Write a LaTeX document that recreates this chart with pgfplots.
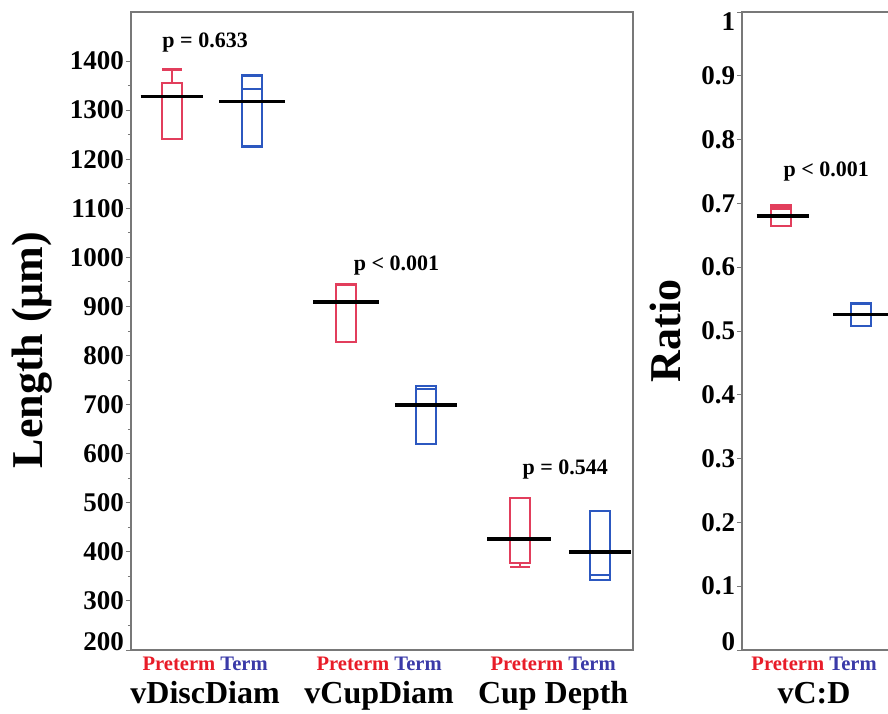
\documentclass[border=0pt]{standalone}
\usepackage{pgfplots}
\pgfplotsset{compat=1.18}
\usepgfplotslibrary{statistics}
\usepackage{fontspec}
\setmainfont{Liberation Serif}

\definecolor{preBox}{RGB}{226,62,92}
\definecolor{termBox}{RGB}{44,88,192}
\definecolor{preTxt}{RGB}{232,28,40}
\definecolor{termTxt}{RGB}{58,58,168}
\definecolor{frame}{RGB}{120,120,120}

\newcommand{\grp}[1]{{\fontsize{10.3}{12}\selectfont\textcolor{preTxt}{Preterm} \textcolor{termTxt}{Term}}\\#1}
\newcommand{\up}[2]{\raisebox{#1}[\height][\depth]{#2}}

\tikzset{pval/.style={font=\fontsize{11}{13}\selectfont\bfseries}}

\pgfplotsset{
  panel/.style={
    scale only axis, height=319pt,
    axis line style={frame, line width=0.6pt},
    tick align=outside, ytick pos=left, xtick pos=bottom,
    major tick length=2.5pt, minor tick length=1.5pt,
    tick style={frame, line width=0.5pt},
    major x tick style={draw=none},
    yticklabel style={font=\fontsize{13.5}{16}\selectfont\bfseries, inner xsep=0.8pt},
    xticklabel style={align=center, anchor=north, yshift=2.5pt,
      font=\fontsize{16}{16.5}\selectfont\bfseries},
    ylabel style={font=\fontsize{22}{26}\selectfont\bfseries, anchor=center},
    boxplot/draw direction=y,
    boxplot/box extend=0.115,
    boxplot/whisker extend=0.115,
    clip=false,
  },
  pre/.style={preBox, line width=1.2pt, solid},
  trm/.style={termBox, line width=1.2pt, solid},
  mean/.style={black, line width=1.7pt},
}

\begin{document}
\begin{tikzpicture}
\begin{axis}[panel,
    width=251pt,
    xmin=0.764, xmax=3.649,
    ymin=200, ymax=1500,
    ytick={200,300,400,500,600,700,800,900,1000,1100,1200,1300,1400},
    yticklabels={\up{4pt}{200},300,400,500,600,700,800,900,1000,1100,1200,1300,1400},
    minor y tick num=1,
    xtick={1.19,2.19,3.19},
    xticklabels={{\grp{vDiscDiam}},{\grp{vCupDiam}},{\grp{Cup Depth}}},
    ylabel={Length (μm)},
    ylabel style={at={(axis description cs:0,0.47)}, yshift=49.5pt},
]
  % vDiscDiam
  \addplot[pre, boxplot prepared={draw position=1, lower whisker=1241,
    lower quartile=1241, median=1355, upper quartile=1355, upper whisker=1383}]
    coordinates {};
  \addplot[trm, boxplot prepared={draw position=1.46, lower whisker=1226,
    lower quartile=1226, median=1343, upper quartile=1371, upper whisker=1371}]
    coordinates {};
  % vCupDiam
  \addplot[pre, boxplot prepared={draw position=2, lower whisker=827,
    lower quartile=827, median=945, upper quartile=945, upper whisker=945}]
    coordinates {};
  \addplot[trm, boxplot prepared={draw position=2.46, lower whisker=620,
    lower quartile=620, median=732, upper quartile=738, upper whisker=738}]
    coordinates {};
  % Cup Depth
  \addplot[pre, boxplot prepared={draw position=3, lower whisker=369,
    lower quartile=377, median=377, upper quartile=510, upper whisker=510}]
    coordinates {};
  \addplot[trm, boxplot prepared={draw position=3.46, lower whisker=343,
    lower quartile=343, median=353, upper quartile=483, upper whisker=483}]
    coordinates {};
  % means
  \addplot[mean] coordinates {(0.82,1328) (1.18,1328)};
  \addplot[mean] coordinates {(1.27,1318) (1.65,1318)};
  \addplot[mean] coordinates {(1.81,909) (2.19,909)};
  \addplot[mean] coordinates {(2.28,699) (2.64,699)};
  \addplot[mean] coordinates {(2.81,426) (3.18,426)};
  \addplot[mean] coordinates {(3.28,400) (3.64,400)};
  \node[pval] at (axis cs:1.19,1438) {p = 0.633};
  \node[pval] at (axis cs:2.29,984) {p < 0.001};
  \node[pval] at (axis cs:3.26,567) {p = 0.544};
\end{axis}

\begin{axis}[panel,
    at={(305.5pt,0pt)}, anchor=south west,
    width=104pt,
    xmin=0.776, xmax=1.971,
    ymin=0, ymax=1,
    ytick={0,0.1,0.2,0.3,0.4,0.5,0.6,0.7,0.8,0.9,1},
    yticklabels={\up{4pt}{0},0.1,0.2,0.3,0.4,0.5,0.6,0.7,0.8,0.9,\up{-5pt}{1}},
    xtick={1.19},
    xticklabels={{\grp{vC:D}}},
    ylabel={Ratio},
    ylabel style={at={(axis description cs:0,0.5)}, yshift=38.5pt},
]
  \addplot[pre, boxplot prepared={draw position=1, lower whisker=0.665,
    lower quartile=0.665, median=0.692, upper quartile=0.697, upper whisker=0.697}]
    coordinates {};
  \addplot[trm, boxplot prepared={draw position=1.46, lower whisker=0.508,
    lower quartile=0.508, median=0.525, upper quartile=0.543, upper whisker=0.543}]
    coordinates {};
  \addplot[mean] coordinates {(0.86,0.68) (1.16,0.68)};
  \addplot[mean] coordinates {(1.30,0.526) (1.66,0.526)};
  \node[pval] at (axis cs:1.26,0.75) {p < 0.001};
\end{axis}
\pgfresetboundingbox
\useasboundingbox (-65.5pt,-31.5pt) rectangle (378.5pt,325pt);
\end{tikzpicture}
\end{document}
